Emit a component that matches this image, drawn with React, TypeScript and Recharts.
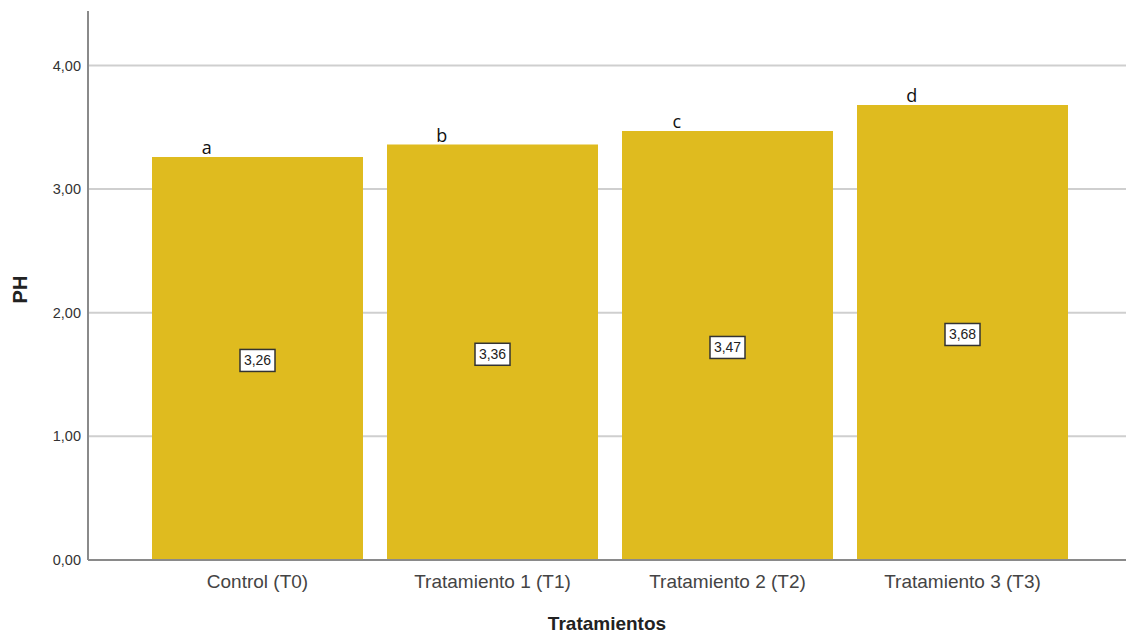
import { BarChart, Bar, XAxis, YAxis, CartesianGrid, LabelList, Label } from 'recharts';

const treatments = ['Control (T0)', 'Tratamiento 1 (T1)', 'Tratamiento 2 (T2)', 'Tratamiento 3 (T3)'];
const phValues = [3.26, 3.36, 3.47, 3.68];
const groupLetters = ['a', 'b', 'c', 'd'];
const yTicks = [0, 1, 2, 3, 4];

const data = treatments.map((name, i) => ({ name, ph: phValues[i], letter: groupLetters[i] }));

const fmt = (v: number) => v.toFixed(2).replace('.', ',');

const ValueBox = (props: any) => {
  const { x, y, width, height, value } = props;
  const cx = x + width / 2;
  const cy = y + height / 2 + 2;
  const label = fmt(Number(value));
  return (
    <g>
      <rect x={cx - 17.5} y={cy - 11} width={35} height={22} fill="#fff" stroke="#333" strokeWidth={1.5} />
      <text x={cx} y={cy + 5} textAnchor="middle" fontSize={14} fill="#222" fontFamily="Liberation Sans, Arial, sans-serif">
        {label}
      </text>
    </g>
  );
};

const LetterLabel = (props: any) => {
  const { x, y, width, value } = props;
  return (
    <text x={x + width * 0.26} y={y - 3} textAnchor="middle" fontSize={18} fill="#111" fontFamily="Open Sans, sans-serif">
      {value}
    </text>
  );
};

export default function App() {
  return (
    <div style={{ position: 'absolute', left: 0, top: 0, background: '#fff' }}>
      <BarChart
        width={1126}
        height={633}
        data={data}
        margin={{ top: 11, right: 0, bottom: 0, left: 0 }}
        barCategoryGap={12}
      >
        <CartesianGrid vertical={false} horizontalValues={yTicks} stroke="#cfcfcf" strokeWidth={2} />
        <XAxis
          dataKey="name"
          height={73}
          padding={{ left: 52, right: 46 }}
          stroke="#8a8a8a"
          strokeWidth={2}
          tickLine={false}
          tickSize={0}
          tickMargin={15}
          tick={{ fill: '#444', fontSize: 19, fontFamily: 'Liberation Sans, Arial, sans-serif' }}
        >
          <Label
            value="Tratamientos"
            position="insideBottom"
            offset={3}
            style={{ fill: '#222', fontSize: 19, fontWeight: 'bold', fontFamily: 'Liberation Sans, Arial, sans-serif' }}
          />
        </XAxis>
        <YAxis
          width={88}
          domain={[0, 4.44]}
          ticks={yTicks}
          tickFormatter={fmt}
          stroke="#8a8a8a"
          strokeWidth={2}
          tickLine={false}
          tickSize={0}
          tickMargin={7}
          tick={{ fill: '#333', fontSize: 14.5, fontFamily: 'Liberation Sans, Arial, sans-serif' }}
        >
          <Label
            value="PH"
            angle={-90}
            position="insideLeft"
            offset={20}
            textAnchor="middle"
            dy={4}
            style={{ fill: '#222', fontSize: 20, fontWeight: 'bold', fontFamily: 'Liberation Sans, Arial, sans-serif' }}
          />
        </YAxis>
        <Bar dataKey="ph" fill="#dfbb1f" isAnimationActive={false}>
          <LabelList dataKey="ph" content={ValueBox} />
          <LabelList dataKey="letter" content={LetterLabel} />
        </Bar>
      </BarChart>
    </div>
  );
}
